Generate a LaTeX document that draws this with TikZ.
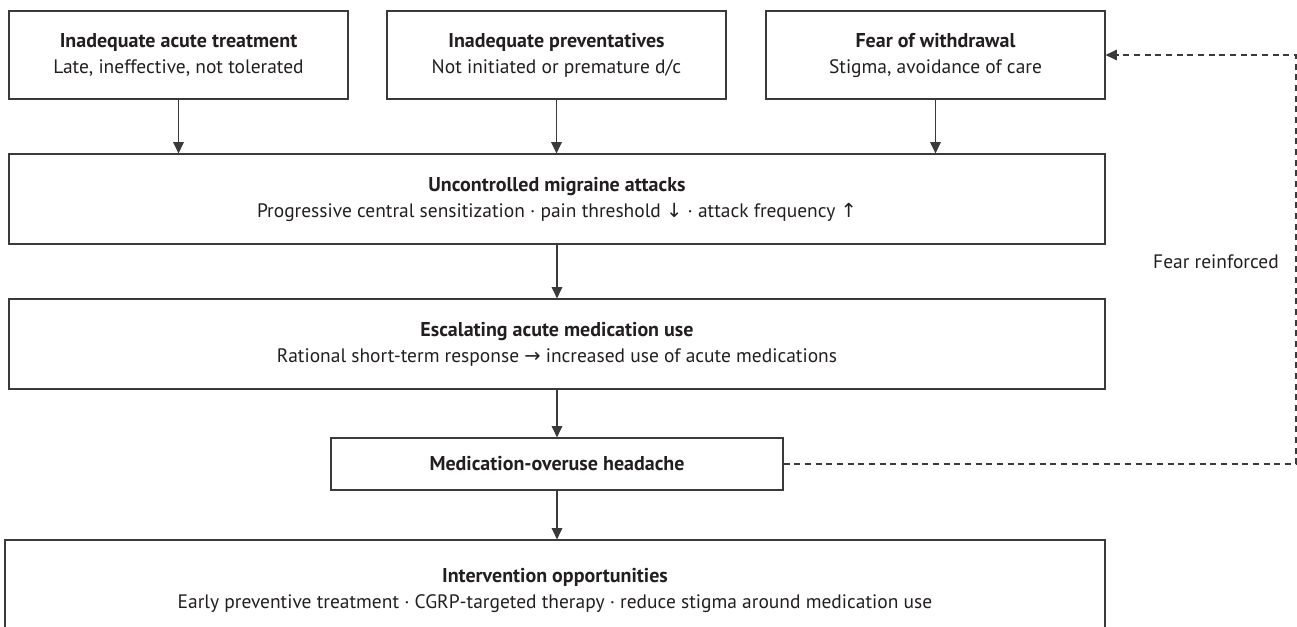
\documentclass[tikz,border=0pt]{standalone}
\usepackage{fontspec}
\setmainfont{PT Sans}
\newfontfamily\arr{DejaVu Sans}
\usetikzlibrary{arrows.meta}
\definecolor{ink}{HTML}{231F20}
\definecolor{ln}{HTML}{3A3A3A}
\newcommand{\ttl}[1]{{\fontsize{15}{19.5}\selectfont\bfseries #1}}
\tikzset{
  box/.style={draw=ln, line width=0.9pt, rectangle, align=center, text=ink, inner sep=0pt, font=\fontsize{14.6}{19.5}\selectfont},
  conn/.style={draw=ln, line width=0.8pt, -{Triangle[length=8.5pt,width=8pt]}},
  dconn/.style={draw=ln, line width=0.8pt, dashed, dash pattern=on 4.5pt off 3.5pt, -{Triangle[length=8.5pt,width=8pt]}}
}
\begin{document}
\begin{tikzpicture}[x=0.75pt,y=-0.75pt]
\useasboundingbox (0,0) rectangle (1297,626);
\clip (0,0) rectangle (1297,626);
\node[box, minimum width=339*0.75pt, minimum height=88*0.75pt] (b1) at (178.5,55) {\ttl{Inadequate acute treatment}\\Late, ineffective, not tolerated};
\node[box, minimum width=339*0.75pt, minimum height=88*0.75pt] (b2) at (556.5,55) {\ttl{Inadequate preventatives}\\Not initiated or premature d/c};
\node[box, minimum width=339*0.75pt, minimum height=88*0.75pt] (b3) at (935.5,55) {\ttl{Fear of withdrawal}\\Stigma, avoidance of care};
\node[box, minimum width=1096*0.75pt, minimum height=90*0.75pt] (unc) at (557,199) {\ttl{Uncontrolled migraine attacks}\\Progressive central sensitization · pain threshold {\arr ↓} · attack frequency {\arr ↑}};
\node[box, minimum width=1096*0.75pt, minimum height=90*0.75pt] (esc) at (557,344) {\ttl{Escalating acute medication use}\\Rational short-term response {\arr →} increased use of acute medications};
\node[box, minimum width=452*0.75pt, minimum height=52*0.75pt] (moh) at (557,464) {\ttl{Medication-overuse headache}};
\node[box, minimum width=1100*0.75pt, minimum height=100*0.75pt] (int) at (555,590) {\ttl{Intervention opportunities}\\Early preventive treatment · CGRP-targeted therapy · reduce stigma around medication use};
\coordinate (c1) at (1296,464);
\coordinate (c2) at (1296,55);
\node[text=ink, font=\fontsize{14.6}{17}\selectfont] (lbl) at (1216,262) {Fear reinforced};
\draw[conn] (b1.south) -- (b1.south |- unc.north);
\draw[conn] (b2.south) -- (b2.south |- unc.north);
\draw[conn] (b3.south) -- (b3.south |- unc.north);
\draw[conn] (unc.south) -- (esc.north);
\draw[conn] (esc.south) -- (moh.north);
\draw[conn] (moh.south) -- (moh.south |- int.north);
\draw[dconn] (moh.east) -- (c1) -- (c2) -- (b3.east |- c2);
\end{tikzpicture}
\end{document}
